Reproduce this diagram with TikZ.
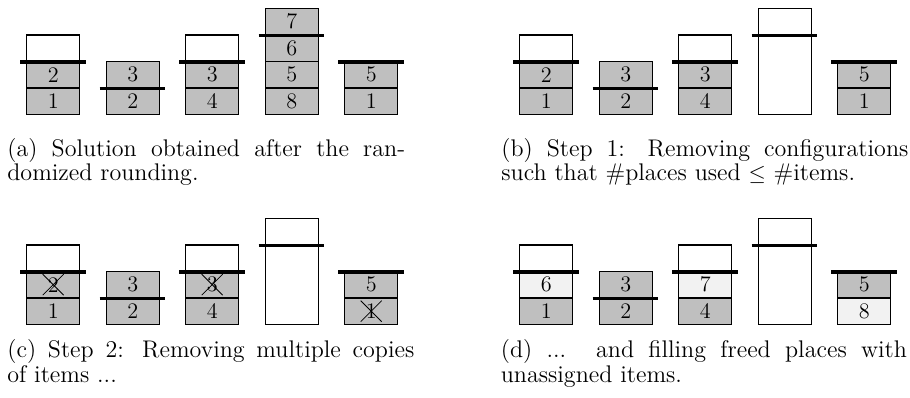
\documentclass[tikz,border=0pt]{standalone}
\colorlet{itemgray}{gray!50}
\colorlet{newgray}{gray!10}
\tikzset{
  cellst/.style={draw, line width=0.6pt, minimum width=28.8pt, minimum height=14.31pt,
    inner sep=0pt, anchor=south west, font=\fontsize{12}{14}\selectfont},
  tallst/.style={draw, line width=0.6pt, minimum width=28.8pt, minimum height=57.24pt,
    inner sep=0pt, anchor=south west, fill=white},
  capline/.style={line width=1.8pt},
  crossst/.style={line width=0.4pt},
  capt/.style={anchor=base west, inner sep=0pt, font=\fontsize{13}{15.6}\selectfont},
}
\newcommand\bincell[7]{\node[cellst,fill=#6] (#1) at ({#2+26+79.5*#4},{#3-26.5*#5}) {#7};}
\newcommand\capat[4]{\draw[capline] ({#1+20+79.5*#3},{#2-26.5*#4}) -- ++(65.5,0);}
\newcommand\crossout[1]{\draw[crossst] (#1.center) ++(-10.5,-10.5) -- ++(21,21) ++(0,-21) -- ++(-21,21);}
\begin{document}
\begin{tikzpicture}[x=0.54pt,y=-0.54pt]
\useasboundingbox (0,0) rectangle (910,397);
% ---------- panel (a) ----------
\bincell{a00}{0}{115}{0}{0}{itemgray}{1}
\bincell{a01}{0}{115}{0}{1}{itemgray}{2}
\bincell{a02}{0}{115}{0}{2}{white}{}
\bincell{a10}{0}{115}{1}{0}{itemgray}{2}
\bincell{a11}{0}{115}{1}{1}{itemgray}{3}
\bincell{a20}{0}{115}{2}{0}{itemgray}{4}
\bincell{a21}{0}{115}{2}{1}{itemgray}{3}
\bincell{a22}{0}{115}{2}{2}{white}{}
\bincell{a30}{0}{115}{3}{0}{itemgray}{8}
\bincell{a31}{0}{115}{3}{1}{itemgray}{5}
\bincell{a32}{0}{115}{3}{2}{itemgray}{6}
\bincell{a33}{0}{115}{3}{3}{itemgray}{7}
\bincell{a40}{0}{115}{4}{0}{itemgray}{1}
\bincell{a41}{0}{115}{4}{1}{itemgray}{5}
\capat{0}{115}{0}{2}
\capat{0}{115}{1}{1}
\capat{0}{115}{2}{2}
\capat{0}{115}{3}{3}
\capat{0}{115}{4}{2}
% ---------- panel (b) ----------
\bincell{b00}{493}{115}{0}{0}{itemgray}{1}
\bincell{b01}{493}{115}{0}{1}{itemgray}{2}
\bincell{b02}{493}{115}{0}{2}{white}{}
\bincell{b10}{493}{115}{1}{0}{itemgray}{2}
\bincell{b11}{493}{115}{1}{1}{itemgray}{3}
\bincell{b20}{493}{115}{2}{0}{itemgray}{4}
\bincell{b21}{493}{115}{2}{1}{itemgray}{3}
\bincell{b22}{493}{115}{2}{2}{white}{}
\node[tallst] (b3) at ({493+26+79.5*3},115) {};
\bincell{b40}{493}{115}{4}{0}{itemgray}{1}
\bincell{b41}{493}{115}{4}{1}{itemgray}{5}
\capat{493}{115}{0}{2}
\capat{493}{115}{1}{1}
\capat{493}{115}{2}{2}
\capat{493}{115}{3}{3}
\capat{493}{115}{4}{2}
% ---------- panel (c) ----------
\bincell{c00}{0}{325}{0}{0}{itemgray}{1}
\bincell{c01}{0}{325}{0}{1}{itemgray}{2}
\bincell{c02}{0}{325}{0}{2}{white}{}
\bincell{c10}{0}{325}{1}{0}{itemgray}{2}
\bincell{c11}{0}{325}{1}{1}{itemgray}{3}
\bincell{c20}{0}{325}{2}{0}{itemgray}{4}
\bincell{c21}{0}{325}{2}{1}{itemgray}{3}
\bincell{c22}{0}{325}{2}{2}{white}{}
\node[tallst] (c3) at ({26+79.5*3},325) {};
\bincell{c40}{0}{325}{4}{0}{itemgray}{1}
\bincell{c41}{0}{325}{4}{1}{itemgray}{5}
\crossout{c01}
\crossout{c21}
\crossout{c40}
\capat{0}{325}{0}{2}
\capat{0}{325}{1}{1}
\capat{0}{325}{2}{2}
\capat{0}{325}{3}{3}
\capat{0}{325}{4}{2}
% ---------- panel (d) ----------
\bincell{d00}{493}{325}{0}{0}{itemgray}{1}
\bincell{d01}{493}{325}{0}{1}{newgray}{6}
\bincell{d02}{493}{325}{0}{2}{white}{}
\bincell{d10}{493}{325}{1}{0}{itemgray}{2}
\bincell{d11}{493}{325}{1}{1}{itemgray}{3}
\bincell{d20}{493}{325}{2}{0}{itemgray}{4}
\bincell{d21}{493}{325}{2}{1}{newgray}{7}
\bincell{d22}{493}{325}{2}{2}{white}{}
\node[tallst] (d3) at ({493+26+79.5*3},325) {};
\bincell{d40}{493}{325}{4}{0}{newgray}{8}
\bincell{d41}{493}{325}{4}{1}{itemgray}{5}
\capat{493}{325}{0}{2}
\capat{493}{325}{1}{1}
\capat{493}{325}{2}{2}
\capat{493}{325}{3}{3}
\capat{493}{325}{4}{2}
% ---------- captions ----------
\node[capt] (capa1) at (7,156) {\makebox[214.8pt][s]{(a) Solution obtained after the ran-}};
\node[capt] (capa2) at (7,180) {domized rounding.};
\node[capt] (capb1) at (501,156) {\makebox[219.8pt][s]{(b) Step 1: Removing configurations}};
\node[capt] (capb2) at (501,180) {such that \#places used $\leq$ \#items.};
\node[capt] (capc1) at (7,357) {\makebox[219.8pt][s]{(c) Step 2: Removing multiple copies}};
\node[capt] (capc2) at (7,382) {of items ...};
\node[capt] (capd1) at (500.5,357) {\makebox[219.3pt][s]{(d) ... and filling freed places with}};
\node[capt] (capd2) at (500.5,382) {unassigned items.};
\end{tikzpicture}
\end{document}
